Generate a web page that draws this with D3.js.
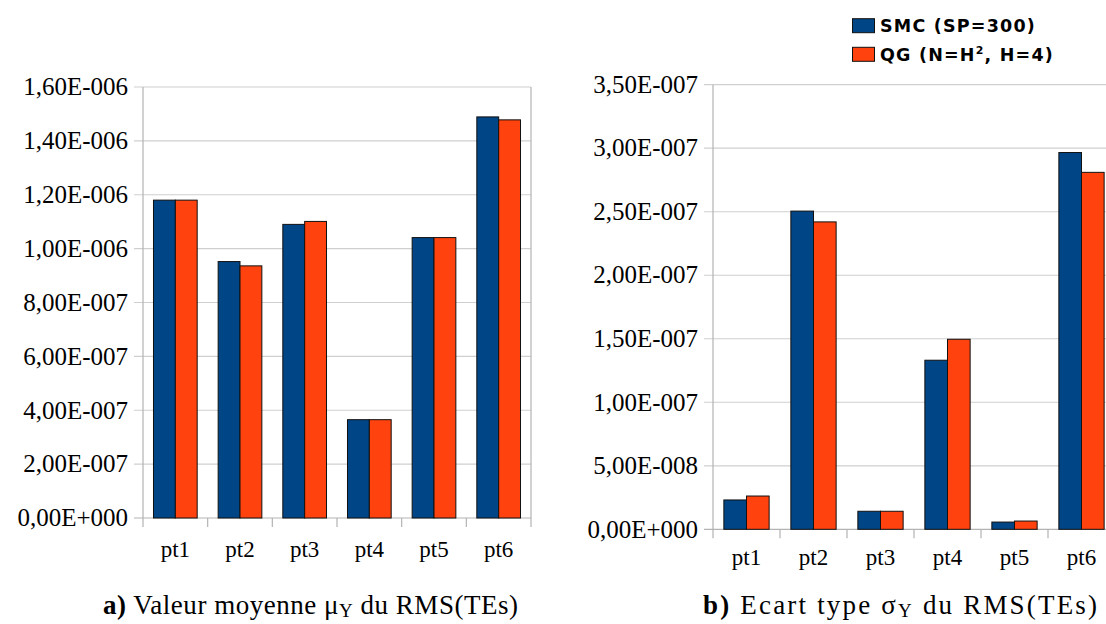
<!DOCTYPE html>
<html>
<head>
<meta charset="utf-8">
<script src="https://cdn.jsdelivr.net/npm/d3@7"></script>
</head>
<body style="margin:0">
<svg id="chart" width="1106" height="624" style="font-family:'Liberation Serif'"></svg>
<script>
const categories = ["pt1","pt2","pt3","pt4","pt5","pt6"];
const seriesNames = ["SMC (SP=300)", "QG (N=H², H=4)"];
const meanSMC = [1.180e-6, 0.952e-6, 1.090e-6, 0.365e-6, 1.041e-6, 1.489e-6];
const meanQG  = [1.180e-6, 0.936e-6, 1.101e-6, 0.365e-6, 1.041e-6, 1.478e-6];
const stdSMC  = [2.31e-8, 2.505e-7, 1.42e-8, 1.331e-7, 5.7e-9, 2.966e-7];
const stdQG   = [2.62e-8, 2.420e-7, 1.42e-8, 1.496e-7, 6.5e-9, 2.810e-7];
const meanTicks = [0,2e-7,4e-7,6e-7,8e-7,1e-6,1.2e-6,1.4e-6,1.6e-6];
const stdTicks  = [0,5e-8,1e-7,1.5e-7,2e-7,2.5e-7,3e-7,3.5e-7];
const colors = ["#004586", "#ff420e"];

function fmtE(v){
  if (v === 0) return "0,00E+000";
  let e = Math.floor(Math.log10(Math.abs(v)));
  let m = v / Math.pow(10, e);
  if (Math.round(m*100)/100 >= 10) { m /= 10; e += 1; }
  const ms = m.toFixed(2).replace(".", ",");
  const es = (e < 0 ? "-" : "+") + String(Math.abs(e)).padStart(3, "0");
  return ms + "E" + es;
}

const svg = d3.select("#chart");

function drawPanel(cfg){
  const g = svg.append("g");
  const x0 = d3.scaleBand().domain(categories).range([cfg.left, cfg.right]).paddingInner(0).paddingOuter(0);
  const x1 = d3.scaleBand().domain([0,1]).range([0, x0.bandwidth()]).paddingInner(0).paddingOuter(0.48);
  const y = d3.scaleLinear().domain(cfg.domain).range([cfg.bottom, cfg.top]);
  const clipRight = Math.min(cfg.right, 1106);

  g.append("g").selectAll("line").data(cfg.ticks).join("line")
    .attr("x1", cfg.left - 9).attr("x2", clipRight)
    .attr("y1", d => y(d)).attr("y2", d => y(d))
    .attr("stroke", d => d === 0 ? "#b3b3b3" : "#cfcfcf").attr("stroke-width", 1.2);

  g.append("line").attr("x1", cfg.left).attr("x2", cfg.left)
    .attr("y1", cfg.top).attr("y2", cfg.bottom + 9)
    .attr("stroke", "#b3b3b3").attr("stroke-width", 1.2);
  if (cfg.right <= 1106) {
    g.append("line").attr("x1", cfg.right).attr("x2", cfg.right)
      .attr("y1", cfg.top).attr("y2", cfg.bottom + 9)
      .attr("stroke", "#b3b3b3").attr("stroke-width", 1.2);
  }
  const bounds = categories.slice(1).map(c => x0(c));
  g.append("g").selectAll("line").data(bounds).join("line")
    .attr("x1", d => d).attr("x2", d => d)
    .attr("y1", cfg.bottom).attr("y2", cfg.bottom + 9)
    .attr("stroke", "#b3b3b3").attr("stroke-width", 1.2);

  g.append("g").selectAll("text").data(cfg.ticks).join("text")
    .attr("x", cfg.left - 15).attr("y", d => y(d)).attr("dy", "0.33em")
    .attr("text-anchor", "end").attr("fill", "#000")
    .attr("font-family", "Liberation Serif").attr("font-size", 25)
    .text(fmtE);

  g.append("g").selectAll("text").data(categories).join("text")
    .attr("x", d => x0(d) + x0.bandwidth() / 2).attr("y", cfg.bottom + cfg.xlabOff)
    .attr("text-anchor", "middle").attr("fill", "#000")
    .attr("font-family", "Liberation Serif").attr("font-size", 23)
    .text(d => d);

  const data = categories.map((c, i) => ({c, vals: [cfg.s1[i], cfg.s2[i]]}));
  const grp = g.append("g").selectAll("g").data(data).join("g")
    .attr("transform", d => `translate(${x0(d.c)},0)`);
  grp.selectAll("rect").data(d => d.vals.map((v, k) => ({v, k}))).join("rect")
    .attr("x", d => x1(d.k)).attr("width", x1.bandwidth())
    .attr("y", d => y(d.v)).attr("height", d => y(0) - y(d.v))
    .attr("fill", d => colors[d.k]).attr("stroke", "#111").attr("stroke-width", 1);

  const cap = g.append("text").attr("x", cfg.capX0).attr("y", 614)
    .attr("text-anchor", "start").attr("font-family", "Liberation Serif")
    .attr("font-size", 27).attr("fill", "#000");
  cap.append("tspan").attr("font-weight", "bold").text(cfg.capLetter);
  cap.append("tspan").text(" " + cfg.capText1 + " " + cfg.capSym);
  cap.append("tspan").attr("font-size", 19).attr("dy", 3).text("Y");
  cap.append("tspan").attr("dy", -3).text(" " + cfg.capText2);
  // spread characters so the caption spans the same width as in the original
  const nChars = cap.text().length;
  const w = cap.node().getComputedTextLength();
  const extra = (cfg.capX1 - cfg.capX0) - w;
  if (extra > 0) cap.attr("letter-spacing", extra / (nChars - 1));
}

drawPanel({left: 143, right: 531, top: 87, bottom: 518, domain: [0, 1.6e-6], ticks: meanTicks,
  s1: meanSMC, s2: meanQG, xlabOff: 38.5, capX0: 103, capX1: 518,
  capLetter: "a)", capText1: "Valeur moyenne", capSym: "μ", capText2: "du RMS(TEs)"});
drawPanel({left: 713, right: 1115, top: 84.7, bottom: 529.3, domain: [0, 3.5e-7], ticks: stdTicks,
  s1: stdSMC, s2: stdQG, xlabOff: 36, capX0: 703, capX1: 1097,
  capLetter: "b)", capText1: "Ecart type", capSym: "σ", capText2: "du RMS(TEs)"});

const legend = svg.append("g");
const legY = [18.7, 47.3];
legend.selectAll("rect").data(seriesNames).join("rect")
  .attr("x", 852.5).attr("y", (d, i) => legY[i]).attr("width", 22).attr("height", 14)
  .attr("fill", (d, i) => colors[i]).attr("stroke", "#111").attr("stroke-width", 1);
legend.append("text").attr("x", 880).attr("y", 32)
  .attr("font-family", "DejaVu Sans").attr("font-weight", "bold").attr("font-size", 17.5)
  .attr("letter-spacing", 1.2).attr("fill", "#000").text(seriesNames[0]);
const lt2 = legend.append("text").attr("x", 880).attr("y", 61)
  .attr("font-family", "DejaVu Sans").attr("font-weight", "bold").attr("font-size", 17.5)
  .attr("letter-spacing", 1.2).attr("fill", "#000");
lt2.append("tspan").text("QG (N=H");
lt2.append("tspan").attr("font-size", 11).attr("dy", -7).text("2");
lt2.append("tspan").attr("dy", 7).text(", H=4)");
</script>
</body>
</html>
